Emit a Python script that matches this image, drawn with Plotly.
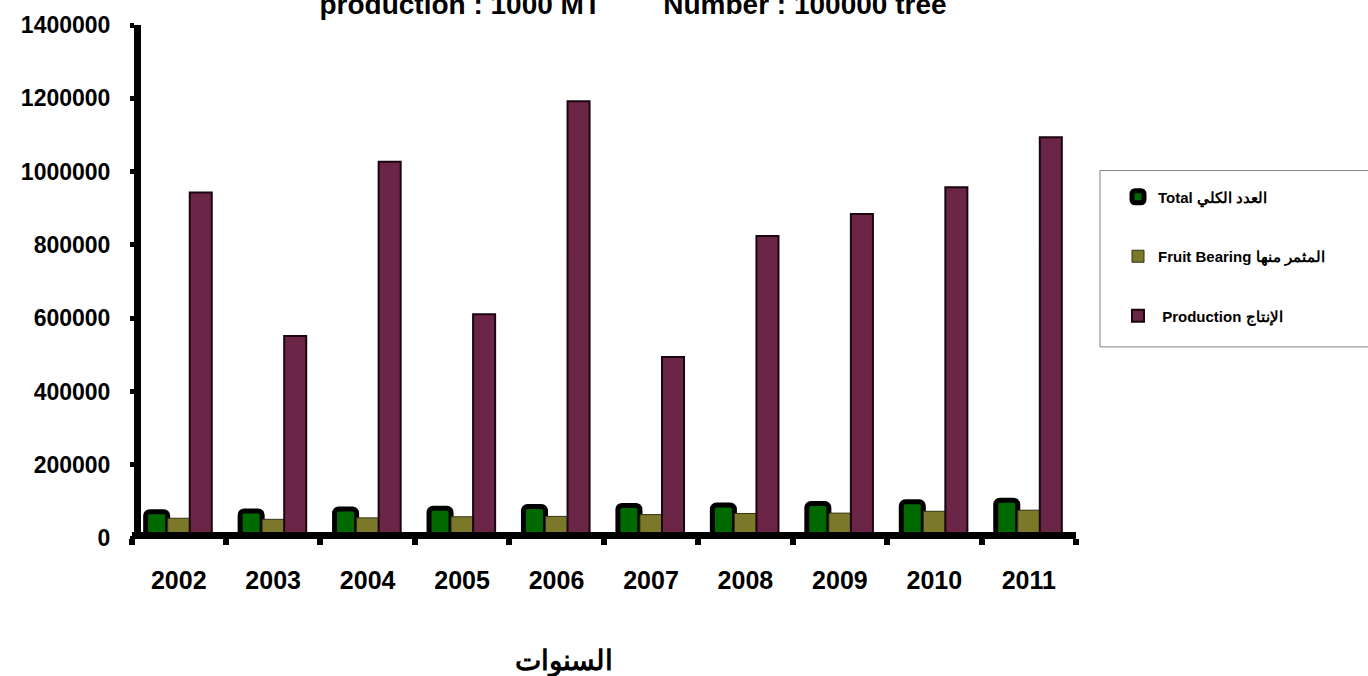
import plotly.graph_objects as go

years = ["2002", "2003", "2004", "2005", "2006", "2007", "2008", "2009", "2010", "2011"]
total = [72000, 74000, 79000, 81000, 86000, 89000, 90000, 94000, 99000, 103000]
fruit_bearing = [54000, 51000, 55000, 58000, 59000, 64000, 67000, 68000, 73000, 76000]
production = [943000, 551000, 1027000, 611000, 1192000, 494000, 824000, 884000, 957000, 1094000]
y_ticks = [0, 200000, 400000, 600000, 800000, 1000000, 1200000, 1400000]

names = ["Total العدد الكلي", "Fruit Bearing المثمر منها", " Production الإنتاج"]
FONT = "Liberation Sans, Arial, sans-serif"

L, R, T, B = 120, 1076, 20, 542
W = R - L
H = B - T
ZERO = 538

fig = go.Figure()
fig.add_trace(go.Bar(x=years, y=total, name=names[0], legendgroup="a",
                     marker=dict(color="#006a00", line=dict(color="black", width=5), cornerradius=4)))
fig.add_trace(go.Bar(x=years, y=fruit_bearing, name=names[1], legendgroup="b",
                     marker=dict(color="#7b782a", line=dict(color="#333311", width=1))))
fig.add_trace(go.Bar(x=years, y=production, name=names[2], legendgroup="c",
                     marker=dict(color="#6a2547", line=dict(color="#1a0610", width=2))))

fig.update_layout(
    width=1368, height=676,
    margin=dict(l=L, r=1368 - R, t=T, b=676 - B),
    paper_bgcolor="white", plot_bgcolor="white",
    barmode="group", bargap=0.3, bargroupgap=0,
    font=dict(family=FONT, color="black"),
    title=dict(text="<b>production : 1000 MT\u00a0\u00a0\u00a0\u00a0\u00a0\u00a0\u00a0\u00a0Number : 100000 tree</b>",
               x=633/1368, xanchor="center", y=1-4/676, yanchor="middle",
               yref="container", font=dict(size=28, family=FONT)),
    legend=dict(x=(1118-L)/W, xanchor="left", y=(B-177)/H, yanchor="top",
                traceorder="grouped", tracegroupgap=37,
                font=dict(size=15, family=FONT, weight="bold"),
                bgcolor="rgba(0,0,0,0)", borderwidth=0),
    showlegend=True,
)

fig.update_xaxes(
    domain=[(131.5-L)/W, 1],
    anchor="free", position=(B-534.5)/H,
    showline=True, linecolor="black", linewidth=7,
    ticks="outside", tickson="boundaries", ticklen=6, tickwidth=6, tickcolor="black",
    tickfont=dict(size=25, family=FONT, weight="bold"),
    ticklabelstandoff=20, showgrid=False,
)
fig.update_yaxes(
    domain=[(B-ZERO)/H, 1],
    anchor="free", position=(137-L)/W,
    range=[0, 1400000], tickvals=y_ticks, ticktext=[str(v) for v in y_ticks],
    showline=True, linecolor="black", linewidth=7,
    ticks="outside", ticklen=4, tickwidth=5, tickcolor="black",
    tickfont=dict(size=23, family=FONT, weight="bold"),
    ticklabelstandoff=15, showgrid=False, zeroline=False,
)

fig.add_annotation(text="<b>السنوات</b>", xref="paper", yref="paper",
                   x=(564-L)/W, y=-(681-B)/H, showarrow=False,
                   font=dict(size=28, family=FONT))

fig.add_shape(type="rect", xref="paper", yref="paper",
              x0=(1100-L)/W, x1=(1375-L)/W,
              y0=(B-345)/H, y1=(B-167)/H,
              line=dict(color="#808080", width=1), fillcolor="rgba(0,0,0,0)", layer="below")

fig.write_html("out.html", config={"displayModeBar": False},
               post_script="document.body.style.margin='0';document.body.style.overflow='hidden';")
